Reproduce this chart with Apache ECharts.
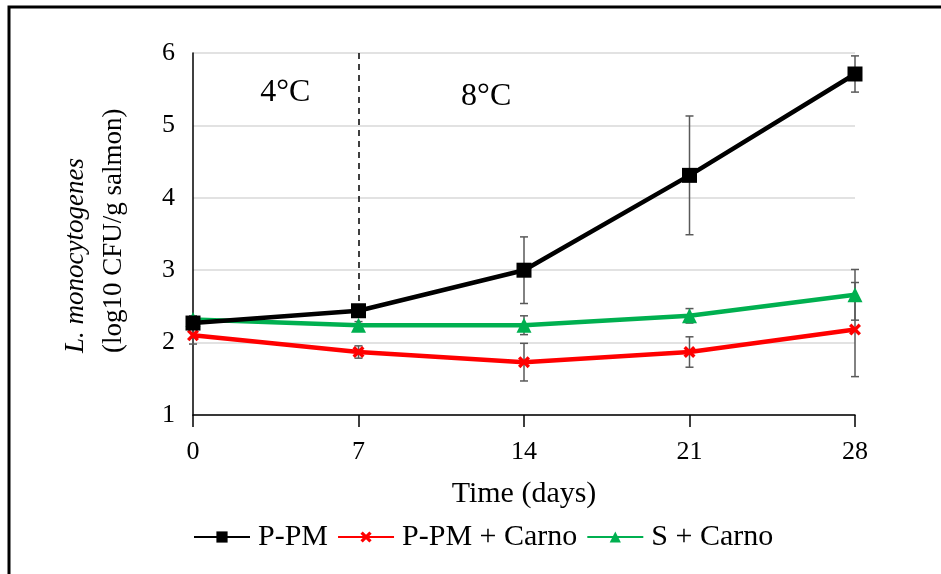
<!DOCTYPE html>
<html><head><meta charset="utf-8">
<script src="https://cdn.jsdelivr.net/npm/echarts@6/dist/echarts.min.js"></script>
<style>html,body{margin:0;padding:0;background:#fff}#c{width:941px;height:574px}</style>
</head><body><div id="c"></div>
<script>
const days = [0, 7, 14, 21, 28];
const xTicks = ['0', '7', '14', '21', '28'];
const pPM = [2.27, 2.44, 3.00, 4.31, 5.71];
const pPMErr = [0.06, 0.04, 0.46, 0.82, 0.25];
const pPMCarno = [2.10, 1.87, 1.73, 1.87, 2.18];
const pPMCarnoErr = [0.12, 0.085, 0.26, 0.21, 0.65];
const sCarno = [2.32, 2.24, 2.24, 2.37, 2.66];
const sCarnoErr = [0.05, 0.05, 0.13, 0.10, 0.35];
const seriesNames = ['P-PM', 'P-PM + Carno', 'S + Carno'];
const tempLabels = ['4°C', '8°C'];

const FONT = 'Liberation Serif';
const crossPath = 'path://M2,0 L5,3 L8,0 L10,2 L7,5 L10,8 L8,10 L5,7 L2,10 L0,8 L3,5 L0,2 Z';

function pts(vals){ return days.map((d,i)=>[d, vals[i]]); }
function errData(vals, errs){ return days.map((d,i)=>[d, vals[i]-errs[i], vals[i]+errs[i]]); }

function errSeries(vals, errs){
  return {
    type: 'custom', silent: true, z: 1,
    data: errData(vals, errs),
    renderItem: function(params, api){
      const x = api.value(0);
      const lo = api.coord([x, api.value(1)]);
      const hi = api.coord([x, api.value(2)]);
      const w = 4;
      const st = {stroke: '#595959', lineWidth: 1.5, fill: null};
      return {type: 'group', children: [
        {type: 'line', shape: {x1: lo[0], y1: lo[1], x2: hi[0], y2: hi[1]}, style: st},
        {type: 'line', shape: {x1: lo[0]-w, y1: lo[1], x2: lo[0]+w, y2: lo[1]}, style: st},
        {type: 'line', shape: {x1: hi[0]-w, y1: hi[1], x2: hi[0]+w, y2: hi[1]}, style: st}
      ]};
    }
  };
}

const chart = echarts.init(document.getElementById('c'));
chart.setOption({
  animation: false,
  backgroundColor: '#fff',
  graphic: [{type: 'polyline', shape: {points: [[9, 700], [9, 7], [1200, 7]]}, style: {fill: null, stroke: '#000', lineWidth: 3}, z: 100}],
  grid: {left: 193, right: 86, top: 53, bottom: 159, containLabel: false},
  legend: {
    left: 193, top: 522, padding: 0, itemWidth: 56, itemHeight: 14, itemGap: 9,
    data: seriesNames,
    textStyle: {fontFamily: FONT, fontSize: 30, color: '#000', padding: [0,0,0,3]}
  },
  xAxis: {
    type: 'value', min: 0, max: 28, interval: 7,
    name: 'Time (days)', nameLocation: 'middle', nameGap: 64,
    nameTextStyle: {fontFamily: FONT, fontSize: 30, color: '#000'},
    axisLine: {lineStyle: {color: '#000', width: 1.5}},
    axisTick: {show: true, length: 12, lineStyle: {color: '#000', width: 1.5}},
    axisLabel: {fontFamily: FONT, fontSize: 26, color: '#000', margin: 24,
      formatter: v => xTicks[days.indexOf(v)] ?? ''},
    splitLine: {show: false}
  },
  yAxis: {
    type: 'value', min: 1, max: 6, interval: 1,
    name: '{i|L. monocytogenes}\n{n|(log10 CFU/g salmon)}',
    nameLocation: 'middle', nameRotate: 90, nameGap: 60,
    nameTextStyle: {fontFamily: FONT, fontSize: 27, color: '#000', lineHeight: 38,
      rich: {i: {fontFamily: FONT, fontSize: 27, fontStyle: 'italic', color: '#000', lineHeight: 38, width: 238, align: 'left'},
             n: {fontFamily: FONT, fontSize: 27, color: '#000', lineHeight: 38, width: 238, align: 'left'}}},
    axisLine: {show: true, lineStyle: {color: '#000', width: 1.5}},
    axisTick: {show: false},
    axisLabel: {fontFamily: FONT, fontSize: 26, color: '#000', margin: 18},
    splitLine: {lineStyle: {color: '#d9d9d9', width: 1.5}}
  },
  series: [
    errSeries(pPM, pPMErr),
    errSeries(pPMCarno, pPMCarnoErr),
    errSeries(sCarno, sCarnoErr),
    {
      name: seriesNames[1], type: 'line', data: pts(pPMCarno), z: 3,
      color: '#ff0000', lineStyle: {width: 4.5, color: '#ff0000'},
      symbol: crossPath, symbolSize: 12, itemStyle: {color: '#ff0000'}
    },
    {
      name: seriesNames[2], type: 'line', data: pts(sCarno), z: 4,
      color: '#00b050', lineStyle: {width: 4.5, color: '#00b050'},
      symbol: 'triangle', symbolSize: 15, itemStyle: {color: '#00b050'}
    },
    {
      name: seriesNames[0], type: 'line', data: pts(pPM), z: 5,
      color: '#000', lineStyle: {width: 4.5, color: '#000'},
      symbol: 'rect', symbolSize: 15, itemStyle: {color: '#000'},
      markLine: {
        silent: true, symbol: 'none', label: {show: false},
        lineStyle: {type: [6, 5], color: '#000', width: 1.5},
        data: [[{coord: [days[1], 6]}, {coord: [days[1], pPM[1]]}]]
      },
      markPoint: {
        symbol: 'circle', symbolSize: 0, silent: true,
        label: {show: true, fontFamily: FONT, fontSize: 32, color: '#000', position: 'inside',
          formatter: p => p.name},
        data: [
          {name: tempLabels[0], coord: [3.9, 5.45]},
          {name: tempLabels[1], coord: [12.4, 5.40]}
        ]
      }
    }
  ]
});
</script></body></html>
